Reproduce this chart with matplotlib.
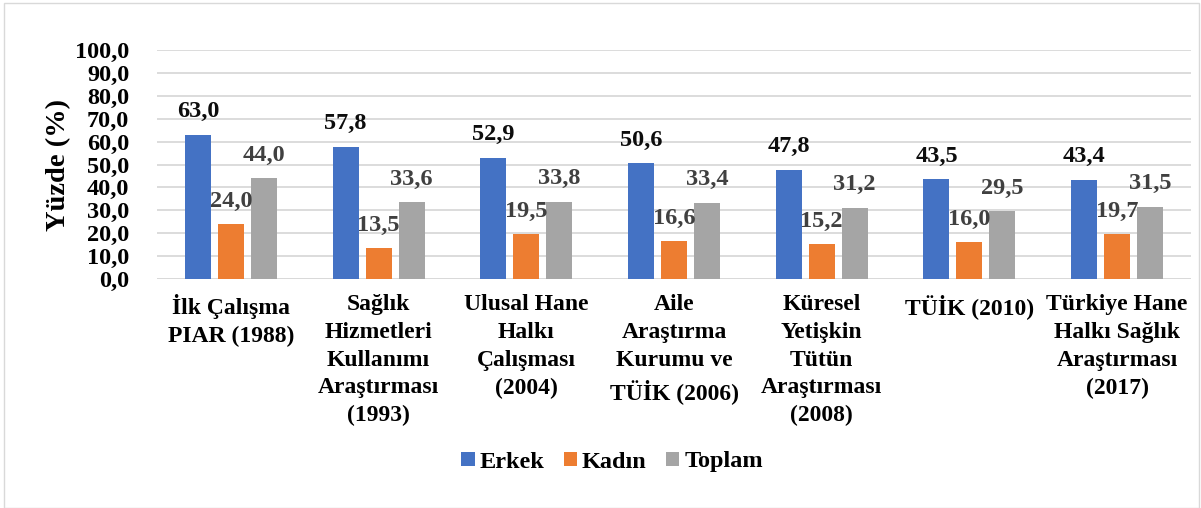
import matplotlib
matplotlib.use("Agg")
import matplotlib.pyplot as plt
import numpy as np
from matplotlib.patches import Rectangle

categories = [
    "İlk Çalışma\nPIAR (1988)",
    "Sağlık\nHizmetleri\nKullanımı\nAraştırması\n(1993)",
    "Ulusal Hane\nHalkı\nÇalışması\n(2004)",
    "Aile\nAraştırma\nKurumu ve\nTÜİK (2006)",
    "Küresel\nYetişkin\nTütün\nAraştırması\n(2008)",
    "TÜİK (2010)",
    "Türkiye Hane\nHalkı Sağlık\nAraştırması\n(2017)",
]
series_names = ["Erkek", "Kadın", "Toplam"]
erkek = [63.0, 57.8, 52.9, 50.6, 47.8, 43.5, 43.4]
kadin = [24.0, 13.5, 19.5, 16.6, 15.2, 16.0, 19.7]
toplam = [44.0, 33.6, 33.8, 33.4, 31.2, 29.5, 31.5]
yticks = [0, 10, 20, 30, 40, 50, 60, 70, 80, 90, 100]

colors = ["#4472C4", "#ED7D31", "#A5A5A5"]
label_colors = ["#0d0d0d", "#404040", "#404040"]

plt.rcParams['font.family'] = ['Liberation Serif', 'DejaVu Serif']
plt.rcParams['font.weight'] = 'bold'

fig = plt.figure(figsize=(12.01, 5.08), dpi=100)
ax = fig.add_axes([157/1201, 1-279/508, (1191-157)/1201, (279-50)/508])

x = np.arange(len(categories))
bw = 0.176
step = 0.223
fs = 17.5
for i, (vals, col, lc, name) in enumerate(zip([erkek, kadin, toplam], colors, label_colors, series_names)):
    pos = x + (i-1)*step
    ax.bar(pos, vals, width=bw, color=col, label=name, zorder=3)
    for p, v in zip(pos, vals):
        ax.annotate(f"{v:.1f}".replace(".", ","), (p, v), xytext=(0, 16.5),
                    textcoords="offset points", ha="center", va="center",
                    fontsize=fs, fontweight="bold", color=lc, zorder=4)

ax.set_xlim(-0.5, len(categories)-0.5)
ax.set_ylim(0, 100)
ax.set_yticks(yticks)
ax.set_yticklabels([f"{t:.1f}".replace(".", ",") for t in yticks], fontsize=fs, fontweight="bold")
ax.set_xticks(x)
ax.set_xticklabels(categories, fontsize=17, fontweight="bold", linespacing=1.42, va="top")
ax.tick_params(axis="y", length=0, pad=20)
ax.tick_params(axis="x", length=0, pad=11)
ax.yaxis.grid(True, color="#d9d9d9", linewidth=1.3, zorder=0)
for s in ax.spines.values():
    s.set_visible(False)
ax.axhline(0, color="#d9d9d9", linewidth=1.3, zorder=2)

fig.text(59/1201, 1-165/508, "Yüzde (%)", rotation=90, ha="center", va="center",
         fontsize=20.5, fontweight="bold")

fig.legend(loc="center", bbox_to_anchor=(612/1201, 1-462/508), ncol=3, frameon=False,
           handlelength=0.55, handleheight=0.55, handletextpad=0.2,
           columnspacing=0.8, prop={'weight': 'bold', 'size': 17.5})

fig.patches.append(Rectangle((4/1201, 0.5/508), 1195/1201, 505/508, transform=fig.transFigure,
                             fill=False, edgecolor="#d9d9d9", linewidth=1))

fig.savefig("out.png", dpi=100, facecolor="white")
